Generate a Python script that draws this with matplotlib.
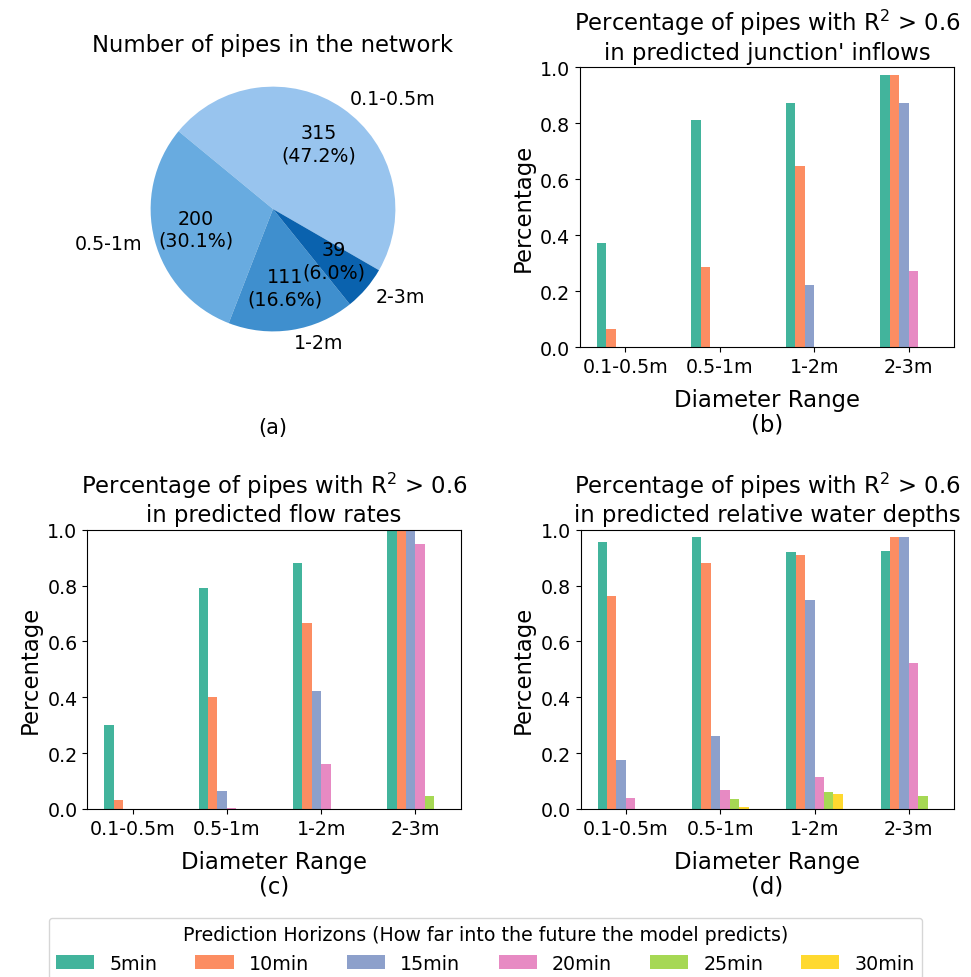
import numpy as np
import matplotlib.pyplot as plt

plt.rcParams['font.family'] = 'DejaVu Sans'
plt.rcParams['font.size'] = 13.7

# pie data
ranges = ['0.1-0.5m', '0.5-1m', '1-2m', '2-3m']
pipe_counts = [315, 200, 111, 39]
pipe_pct = [47.2, 30.1, 16.6, 6.0]
pie_colors = ['#98c4ee', '#68abe0', '#3f8fce', '#0a62ae']

# bar data: one row per prediction horizon, one column per diameter range
horizons = ['5min', '10min', '15min', '20min', '25min', '30min']
bar_colors = ['#42b49c', '#fc8d62', '#8da0cb', '#e78ac3', '#a6d854', '#ffd92f']

inflow_r2 = [
    [0.373, 0.813, 0.873, 0.973],
    [0.065, 0.286, 0.646, 0.973],
    [0.0, 0.0, 0.224, 0.873],
    [0.0, 0.0, 0.0, 0.274],
    [0.0, 0.0, 0.0, 0.0],
    [0.0, 0.0, 0.0, 0.0],
]
flow_r2 = [
    [0.302, 0.790, 0.882, 1.0],
    [0.033, 0.402, 0.667, 1.0],
    [0.0, 0.064, 0.421, 1.0],
    [0.0, 0.003, 0.162, 0.949],
    [0.0, 0.0, 0.0, 0.048],
    [0.0, 0.0, 0.0, 0.0],
]
depth_r2 = [
    [0.955, 0.975, 0.919, 0.925],
    [0.763, 0.881, 0.909, 0.975],
    [0.175, 0.261, 0.747, 0.975],
    [0.039, 0.068, 0.116, 0.524],
    [0.0, 0.035, 0.062, 0.048],
    [0.0, 0.008, 0.054, 0.0],
]

fig = plt.figure(figsize=(9.71, 9.78), dpi=100)

# (a) pie
ax_a = fig.add_axes([0.1236, 0.6288, 0.3151, 0.3129])
pct_iter = iter(pipe_pct)
count_iter = iter(pipe_counts)


def fmt(p):
    return '{}\n({:.1f}%)'.format(next(count_iter), next(pct_iter))


ax_a.pie(pipe_counts, labels=ranges, colors=pie_colors, autopct=fmt,
         startangle=-30, pctdistance=0.65, labeldistance=1.1)
ax_a.set_title('Number of pipes in the network', fontsize=16.4, pad=-2)
fig.text(273 / 971, 1 - 428 / 978, '(a)', ha='center', va='center', fontsize=15)

x = np.arange(len(ranges))
width = 0.1


def bar_panel(rect, data, title, tag):
    ax = fig.add_axes(rect)
    for i, h in enumerate(horizons):
        ax.bar(x + (i - 2.5) * width, data[i], width, color=bar_colors[i], label=h)
    ax.set_xticks(x)
    ax.set_xticklabels(ranges)
    ax.set_ylim(0, 1.0)
    ax.set_title(title, fontsize=16.4)
    ax.set_ylabel('Percentage', fontsize=16.4)
    ax.set_xlabel('Diameter Range\n(' + tag + ')', fontsize=16.4,
                  linespacing=1.05, labelpad=9)
    return ax


ax_b = bar_panel([0.5973, 0.6439, 0.3852, 0.2863], inflow_r2,
                 "Percentage of pipes with R$^2$ > 0.6\nin predicted junction' inflows", 'b')
ax_c = bar_panel([0.0899, 0.1718, 0.3846, 0.2856], flow_r2,
                 'Percentage of pipes with R$^2$ > 0.6\nin predicted flow rates', 'c')
ax_d = bar_panel([0.5980, 0.1718, 0.3846, 0.2856], depth_r2,
                 'Percentage of pipes with R$^2$ > 0.6\nin predicted relative water depths', 'd')

handles, labels = ax_d.get_legend_handles_labels()
fig.legend(handles, labels, ncol=6, loc='upper center', bbox_to_anchor=(0.5, 1 - 909 / 978),
           title='Prediction Horizons (How far into the future the model predicts)',
           title_fontsize=13.7, fontsize=13.7)

fig.savefig('out.png', dpi=100)
